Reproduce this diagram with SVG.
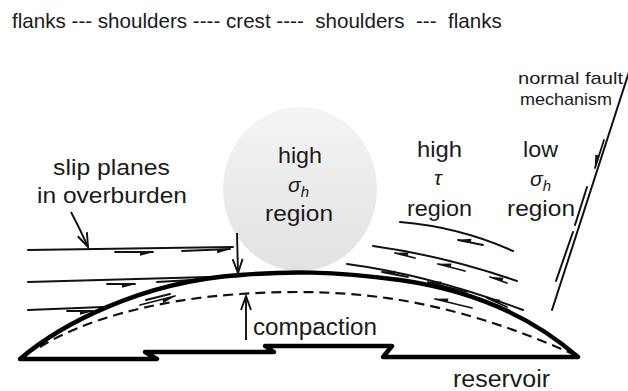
<svg xmlns="http://www.w3.org/2000/svg" width="628" height="391" viewBox="0 0 628 391">
  <style>
    .t { font-family: "Liberation Sans", Arial, sans-serif; fill: #1a1a1a; }
    .it { font-style: italic; }
    .ln { fill: none; stroke: #111; stroke-width: 2; stroke-linecap: round; }
    .ha { fill: none; stroke: #111; stroke-width: 1.8; stroke-linecap: round; marker-end: url(#half); }
    .arr { fill: none; stroke: #111; stroke-width: 1.9; marker-end: url(#vee); }
    .thick { fill: none; stroke: #000; stroke-width: 4.4; stroke-linejoin: round; stroke-linecap: round; }
    .dash { fill: none; stroke: #111; stroke-width: 2.2; stroke-dasharray: 10 6; }
  </style>
  <defs>
    <linearGradient id="blob" x1="0" y1="0" x2="0" y2="1">
      <stop offset="0" stop-color="#f4f4f4"/>
      <stop offset="1" stop-color="#e2e2e2"/>
    </linearGradient>
    <!-- open V arrowhead -->
    <marker id="vee" markerUnits="userSpaceOnUse" viewBox="-16 -8 18 16" markerWidth="18" markerHeight="16" refX="0" refY="0" orient="auto" overflow="visible">
      <path d="M-14,-5 L0,0 L-14,5" fill="none" stroke="#111" stroke-width="1.9"/>
    </marker>
    <!-- one-sided slip arrowhead -->
    <marker id="half" markerUnits="userSpaceOnUse" viewBox="-14 -1 16 8" markerWidth="16" markerHeight="8" refX="0" refY="0" orient="auto" overflow="visible">
      <path d="M1,0 L-13,0 L-13,3.8 Z" fill="#111"/>
    </marker>
  </defs>

  <rect width="628" height="391" fill="#fff"/>

  <!-- heading across the structure -->
  <g id="title">
    <text class="t" x="12" y="28" font-size="20.6" xml:space="preserve" style="white-space:pre">flanks --- shoulders ---- crest ----  shoulders  ---  flanks</text>
  </g>

  <!-- high horizontal stress zone above the crest -->
  <g id="high-sh-region">
    <ellipse cx="300" cy="189" rx="77" ry="82" fill="url(#blob)"/>
    <text class="t" x="278" y="163" font-size="22" textLength="44" lengthAdjust="spacingAndGlyphs">high</text>
    <text class="t it" x="288" y="192" font-size="21">σ<tspan font-size="15" dy="5">h</tspan></text>
    <text class="t" x="265" y="221" font-size="22" textLength="68" lengthAdjust="spacingAndGlyphs">region</text>
  </g>

  <!-- bedding-parallel slip planes on the left flank -->
  <g id="overburden-slip">
    <text class="t" x="53" y="175" font-size="22" textLength="117" lengthAdjust="spacingAndGlyphs">slip planes</text>
    <text class="t" x="37" y="203" font-size="22" textLength="150" lengthAdjust="spacingAndGlyphs">in overburden</text>
    <path class="ln" d="M28,250 L233,247"/>
    <path class="ln" d="M28,282 L245,276"/>
    <path class="ln" d="M28,310 L103,307"/>
    <path class="ha" d="M115,252 L153,252"/>
    <path class="ha" d="M182,251 L230,249"/>
    <path class="ha" d="M107,284 L135,284"/>
    <path class="ha" d="M157,282 L192,280"/>
    <path class="ha" d="M67,311 L93,311"/>
    <path class="ha" d="M140,305 L175,296"/>
    <path class="ln" d="M146,300 L170,294"/>
  </g>

  <!-- high shear stress zone on the right shoulder -->
  <g id="high-tau-region">
    <text class="t" x="417" y="157" font-size="22" textLength="45" lengthAdjust="spacingAndGlyphs">high</text>
    <text class="t it" x="434" y="185" font-size="21">τ</text>
    <text class="t" x="407" y="216" font-size="22" textLength="65" lengthAdjust="spacingAndGlyphs">region</text>
    <path class="ln" d="M400,222 Q460,227 513,251"/>
    <path class="ln" d="M373,246 Q445,256 517,281"/>
    <path class="ln" d="M347,264 Q430,275 523,310"/>
    <path class="ha" d="M483,245 L458,240"/>
    <path class="ha" d="M415,258 L395,253"/>
    <path class="ha" d="M465,271 L438,264"/>
    <path class="ha" d="M507,283 L490,277"/>
    <path class="ha" d="M408,277 L382,272"/>
    <path class="ha" d="M467,292 L428,282"/>
    <path class="ha" d="M507,307 L487,298"/>
    <path class="ha" d="M472,308 L435,299"/>
    <path class="ln" d="M510,311 L488,302"/>
  </g>

  <!-- low horizontal stress zone on the right flank -->
  <g id="low-sh-region">
    <text class="t" x="523" y="157" font-size="22" textLength="35" lengthAdjust="spacingAndGlyphs">low</text>
    <text class="t it" x="530" y="186" font-size="21">σ<tspan font-size="15" dy="5">h</tspan></text>
    <text class="t" x="507" y="216" font-size="22" textLength="68" lengthAdjust="spacingAndGlyphs">region</text>
  </g>

  <!-- normal fault cutting the flank -->
  <g id="normal-fault">
    <text class="t" x="518" y="84" font-size="17" textLength="105" lengthAdjust="spacingAndGlyphs">normal fault</text>
    <text class="t" x="520" y="105" font-size="17" textLength="92" lengthAdjust="spacingAndGlyphs">mechanism</text>
    <path class="ln" d="M629,72 L552,310"/>
    <path class="ha" d="M604,140 L595,168"/>
    <path class="ln" d="M587,187 L575,225"/>
    <path class="ln" d="M573,232 L556,281"/>
  </g>

  <!-- reservoir body: domed top, stepped base, compacted top -->
  <g id="reservoir">
    <path class="dash" d="M40,347 C80,322 150,300 240,294 C300,290 350,292 400,300 C460,310 520,330 575,355"/>
    <path class="thick" d="M20,359 C60,325 140,282 240,275 C290,271 330,271 400,280 C470,290 530,315 578,357 L383,357 L392,346 L265,346 L274,352 L145,352 L157,359 Z"/>
    <text class="t" x="253" y="335" font-size="23" textLength="124" lengthAdjust="spacingAndGlyphs">compaction</text>
    <text class="t" x="453" y="387" font-size="23" textLength="97" lengthAdjust="spacingAndGlyphs">reservoir</text>
  </g>

  <!-- pointer arrows -->
  <g id="connectors">
    <path class="arr" d="M71,212 Q80,229 88,247"/>
    <path class="arr" d="M237,233 L238,273"/>
    <path class="arr" d="M246,340 L246,296"/>
  </g>
</svg>
